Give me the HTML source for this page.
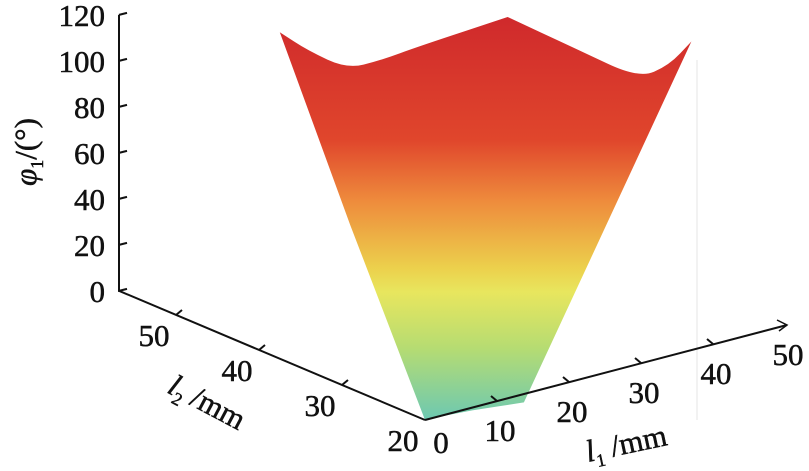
<!DOCTYPE html>
<html><head><meta charset="utf-8"><style>
html,body{margin:0;padding:0;background:#fff;}
svg, svg text{font-family:"Liberation Serif","Times New Roman",serif;}
svg{display:block;}
</style></head><body>
<svg id="chart" width="809" height="471" viewBox="0 0 809 471" font-family="Liberation Serif, serif">
<defs>
<linearGradient id="cmap" gradientUnits="userSpaceOnUse" x1="0" y1="20" x2="0" y2="420">
<stop offset="0" stop-color="#d02a2c"/>
<stop offset="0.3" stop-color="#e0462c"/>
<stop offset="0.45" stop-color="#ee8a3c"/>
<stop offset="0.62" stop-color="#ecd04c"/>
<stop offset="0.68" stop-color="#e8e65e"/>
<stop offset="0.82" stop-color="#b6dc72"/>
<stop offset="1" stop-color="#6cc8b2"/>
</linearGradient>
</defs>
<line x1="697" y1="60" x2="697" y2="420" stroke="#e4e4e4" stroke-width="1"/>
<g id="surf"></g>
<g id="axes" stroke="#111" stroke-width="2" fill="none"></g>
<g id="labels" fill="#111" stroke="#111" stroke-width="0.5" font-size="31" font-family="Liberation Serif, serif"></g>
<text x="0" y="0" transform="translate(36,152) rotate(-90)" text-anchor="middle" font-size="31" font-family="Liberation Serif, serif" fill="#111" stroke="#111" stroke-width="0.5"><tspan font-style="italic">φ</tspan><tspan font-size="18" dy="7">1</tspan><tspan dy="-7">/(°)</tspan></text>
<text x="0" y="0" transform="translate(166,392) rotate(28)" font-size="31" font-family="Liberation Serif, serif" fill="#111" stroke="#111" stroke-width="0.5"><tspan font-style="italic">l</tspan><tspan font-size="18" dy="7">2</tspan><tspan dy="-7"> /mm</tspan></text>
<text x="0" y="0" transform="translate(588,462) rotate(-12)" font-size="31" font-family="Liberation Serif, serif" fill="#111" stroke="#111" stroke-width="0.5"><tspan font-style="italic">l</tspan><tspan font-size="18" dy="7">1</tspan><tspan dy="-7"> /mm</tspan></text>
</svg>
<script>
// data
const zTicks=[0,20,40,60,80,100,120];
const l1Ticks=[0,10,20,30,40,50];
const l2Ticks=[20,30,40,50];
// top edge of surface [l1, l2, phi] (left half up to peak, right half from peak)
const topLeftL1=[0,1,3,7,12,23];
const topLeftL2=[37.5,35,32,31.5,31,30];
const topLeftPhi=[142,137,132,133,136,141];
const topRightL1=[23,28,32,34.5,37];
const topRightL2=[30,26,22,20.5,20];
const topRightPhi=[141,129,119,125,134];
// remaining boundary (right edge, bottom, left edge)
const restL1=[25.1,12,9,6,3,0,0];
const restL2=[20,18.5,19,19.5,19.8,20,29];
const restPhi=[63.5,0,0,0,0,0,71];

const O={x:425,y:420};
function proj(l1,l2,phi){
  return {x:O.x+7.2*l1-8.3*(l2-20), y:O.y-1.9*l1-3.5*(l2-20)-2.3*phi};
}
const NS='http://www.w3.org/2000/svg';
function mk(tag,parent,attrs){const e=document.createElementNS(NS,tag);for(const k in attrs)e.setAttribute(k,attrs[k]);parent.appendChild(e);return e;}
const f=v=>v.toFixed(1);
function smooth(tp){
  let s=' L'+f(tp[0].x)+','+f(tp[0].y);
  s+=' L'+f((tp[0].x+tp[1].x)/2)+','+f((tp[0].y+tp[1].y)/2);
  for(let i=1;i<tp.length-1;i++){
    const mx=(tp[i].x+tp[i+1].x)/2,my=(tp[i].y+tp[i+1].y)/2;
    s+=' Q'+f(tp[i].x)+','+f(tp[i].y)+' '+f(mx)+','+f(my);
  }
  s+=' L'+f(tp[tp.length-1].x)+','+f(tp[tp.length-1].y);
  return s;
}
const a=topLeftL1.map((v,i)=>proj(v,topLeftL2[i],topLeftPhi[i]));
const b=topRightL1.map((v,i)=>proj(v,topRightL2[i],topRightPhi[i]));
const rp=restL1.map((v,i)=>proj(v,restL2[i],restPhi[i]));
let d='M'+f(a[0].x)+','+f(a[0].y)+smooth(a)+smooth(b);
rp.forEach(p=>{d+=' L'+f(p.x)+','+f(p.y);});
d+=' Z';
const surf=mk('path',document.getElementById('surf'),{d:d,fill:'url(#cmap)'});



const ax=document.getElementById('axes'), lb=document.getElementById('labels');
const zx=119;
const zBase=O.y-3.5*36.9;
const za=mk('line',ax,{x1:zx,y1:zBase-2.3*120,x2:zx,y2:zBase+1});


zTicks.forEach(t=>{
  const y=zBase-2.3*t;
  const tk=mk('line',ax,{x1:zx,y1:y,x2:zx+8,y2:y-2});
  
  
  const tx=mk('text',lb,{x:105,y:y+11,'text-anchor':'end'});tx.textContent=t;
  
  
});
const l2a=mk('line',ax,{x1:zx,y1:zBase,x2:O.x,y2:O.y});


l2Ticks.forEach(t=>{
  const p=proj(0,t,0);
  if(t>20){const tk=mk('line',ax,{x1:p.x,y1:p.y,x2:p.x+6,y2:p.y-5});
  
  }
  const tx=mk('text',lb,{x:p.x-22,y:p.y+31,'text-anchor':'middle'});tx.textContent=t;
  
  
});
const e=proj(50,20,0);
const l1a=mk('line',ax,{x1:O.x,y1:O.y,x2:e.x+2,y2:e.y});


mk('path',ax,{d:`M${e.x-8},${e.y-5} L${e.x+2},${e.y} L${e.x-6},${e.y+6}`,'stroke-width':1.5});
l1Ticks.forEach(t=>{
  const p=proj(t,20,0);
  if(t>0&&t<50){const tk=mk('line',ax,{x1:p.x,y1:p.y,x2:p.x-6,y2:p.y-5});
  
  }
  const tx=mk('text',lb,{x:p.x+(t===0?16:3),y:p.y+(t===0?33:40),'text-anchor':'middle'});tx.textContent=t;
  
  
});
</script>
</body></html>
